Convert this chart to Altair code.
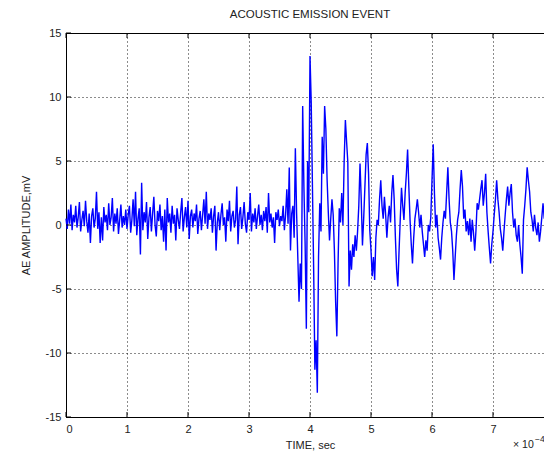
import altair as alt
import pandas as pd

STEP = 0.02

amp_0 = [0.5, -0.3, 1.2, 0.1, 1.6, -0.4, 0.8, 0.2, 1.5, -0.2,
         0.6, 1.8, -0.5, 0.4, 1.1, -0.1, 1.9, 0.3, -0.6, 0.9,
         -1.4, 0.7, 1.3, -0.2, 0.5, 2.6, -0.3, 1.0, -1.4, 0.6,
         -1.2, 1.4, 0.2, 0.8, -0.4, 1.7, 0.0, 0.6, 2.1, -0.5,
         0.9, 0.1, 1.3, -0.7, 0.4, 1.6, -0.2, 0.7, 0.0, 1.2]
amp_1 = [-0.3, 0.8, 1.5, -0.6, 0.4, 2.0, -0.1, 2.6, -0.8, 0.5,
         1.3, -2.3, 3.3, -0.4, 1.0, 0.2, 1.8, -1.1, 0.6, 1.4,
         -0.5, 0.9, 2.2, 0.0, -0.9, 1.1, 0.3, 1.6, -0.4, 0.7,
         -1.3, 1.2, -2.0, 2.1, 0.2, 0.9, -0.6, 1.5, 0.1, 0.8,
         -1.2, 1.3, 0.4, -0.3, 1.0, 2.1, -0.5, 0.6, 1.4, -0.2]
amp_2 = [1.9, -1.1, 0.7, 1.2, -0.2, 0.9, 0.3, 1.6, -0.7, 0.5,
         1.1, -0.4, 0.8, 2.0, 0.1, 2.6, -0.3, 0.9, 0.4, 1.3,
         -0.6, 0.7, 1.5, -2.0, 0.2, 1.0, -0.4, 0.8, 1.7, 0.0,
         0.6, -1.3, 1.2, 0.3, 1.9, -0.5, 0.7, 1.1, -0.2, 0.4,
         3.0, -1.5, 0.8, 1.4, -0.3, 0.6, 1.8, 0.1, -0.6, 1.0]
amp_3 = [0.4, 2.5, -0.5, 0.9, 0.2, 1.3, -0.3, 0.7, 1.6, 0.0,
         0.8, -0.4, 1.1, 0.3, 1.4, -0.6, 2.5, 0.2, 0.9, -0.2,
         0.6, -1.4, 1.0, 0.4, 1.2, -0.1, 0.7, 0.3, 1.5, -0.4,
         0.8, 2.8, 0.1, 4.5, -2.0, 0.9, 1.5, -1.0, 6.0, 1.0,
         -2.5, -6.0, -3.0, -5.0, 9.3, 3.0, -1.5, -8.1, 5.0, 1.0]
amp_4 = [13.2, 9.6, 3.0, -3.5, -11.3, -9.0, -13.1, -2.5, 1.7, -0.5,
         6.9, 4.0, 9.3, 7.5, 3.6, 1.0, -1.2, 0.5, 2.0, 0.8,
         -2.0, -6.0, -8.7, -3.0, 1.3, 0.2, 2.5, 0.0, 5.0, 8.2,
         6.5, 4.9, -4.8, -2.0, -3.5, -1.5, -2.5, -0.8, -2.0, -0.5,
         1.5, 4.8, 2.0, -1.6, 0.5, 3.0, 5.5, 6.4, 4.0, -0.4]
amp_5 = [-2.0, -4.0, -2.5, -4.3, -1.0, 0.4, 0.0, 2.0, 3.5, 1.5,
         0.5, 2.2, 0.8, -1.0, 0.6, 1.5, 0.2, 2.5, 3.9, 2.0,
         -1.0, -3.5, -4.8, -2.0, 0.5, 2.9, 1.5, 0.4, 2.5, 4.0,
         5.9, 3.0, 0.4, -1.5, -3.0, -1.0, 0.5, 1.2, 2.0, 1.0,
         -0.2, 0.8, -0.5, -1.5, -2.5, -1.2, -2.0, 0.0, -0.5, 0.6]
amp_6 = [3.5, 6.3, 2.5, -0.2, 0.8, -1.0, -1.8, -2.7, -1.0, 0.2,
         1.1, 0.5, 2.5, 4.5, 2.0, 0.2, -0.5, -2.0, -4.3, -2.5,
         -0.8, 0.4, 1.0, 2.8, 4.3, 3.0, 0.5, 1.2, -0.5, 0.3,
         -0.8, 0.5, -1.3, 0.4, -0.6, -2.0, -0.5, 1.7, 1.2, 2.0,
         2.8, 3.5, 1.5, 2.5, 4.0, 1.0, -0.5, -1.8, -3.0, -1.5]
amp_7 = [-0.5, 0.8, 2.0, 3.5, 2.0, 1.0, -0.3, -1.0, -2.0, -0.5,
         0.8, 2.0, 3.0, 1.5, 2.5, 3.2, 1.0, -0.2, 0.5, -0.8,
         -1.3, 0.0, -1.5, -2.5, -3.8, 0.4, 1.5, 2.8, 4.5, 3.5,
         2.6, 1.0, 0.4, -0.5, 0.8, -0.2, -0.8, 0.2, -1.3, -0.5,
         0.6, 1.7, 0.5, 2.4, 1.2, -0.2, 0.8, 0.0, 0.3]

amplitude = amp_0 + amp_1 + amp_2 + amp_3 + amp_4 + amp_5 + amp_6 + amp_7
time = [round(i * STEP, 2) for i in range(len(amplitude))]

x_ticks = [0, 1, 2, 3, 4, 5, 6, 7]
y_ticks = [-15, -10, -5, 0, 5, 10, 15]
exponent_label = ["\u00d7 10"]
exponent_power = ["\u22124"]

W, H = 488, 384

sig = pd.DataFrame({"t": time, "v": amplitude})
xt = pd.DataFrame({"t": x_ticks})
yt = pd.DataFrame({"v": y_ticks})
one = pd.DataFrame({"base": exponent_label, "pow": exponent_power})

xscale = alt.Scale(domain=[0, 8], nice=False, zero=False)
yscale = alt.Scale(domain=[-15, 15], nice=False, zero=False)

FONT = "Liberation Sans"

line = alt.Chart(sig).mark_line(color="#0000ff", strokeWidth=1.4).encode(
    x=alt.X("t:Q", scale=xscale,
            axis=alt.Axis(values=x_ticks, title="TIME, sec", grid=True,
                          tickSize=0, labelPadding=6, titlePadding=5,
                          format="d")),
    y=alt.Y("v:Q", scale=yscale,
            axis=alt.Axis(values=y_ticks, title="AE AMPLITUDE,mV", grid=True,
                          tickSize=0, labelPadding=5, titlePadding=14,
                          labelExpr="'' + datum.value")),
)

tick_bottom = alt.Chart(xt).mark_rule(color="black").encode(
    x=alt.X("t:Q", scale=xscale), y=alt.value(H), y2=alt.value(H - 5))
tick_top = alt.Chart(xt).mark_rule(color="black").encode(
    x=alt.X("t:Q", scale=xscale), y=alt.value(0), y2=alt.value(5))
tick_left = alt.Chart(yt).mark_rule(color="black").encode(
    y=alt.Y("v:Q", scale=yscale), x=alt.value(0), x2=alt.value(5))

exp_base = alt.Chart(one).mark_text(
    font=FONT, fontSize=10.5, align="left", baseline="middle",
    color="#222").encode(text="base:N", x=alt.value(447), y=alt.value(H + 28))
exp_pow = alt.Chart(one).mark_text(
    font=FONT, fontSize=8.5, align="left", baseline="middle",
    color="#222").encode(text="pow:N", x=alt.value(469), y=alt.value(H + 22))

chart = alt.layer(line, tick_bottom, tick_top, tick_left, exp_base, exp_pow).properties(
    width=W, height=H,
    title=alt.Title("ACOUSTIC EMISSION EVENT", font=FONT, fontSize=11.5,
                    fontWeight="normal", color="#222", offset=7),
    padding={"left": 58, "top": 25, "right": -10, "bottom": 34},
    autosize=alt.AutoSizeParams(type="none"),
).configure_axis(
    domainColor="black", domainWidth=1,
    gridColor="black", gridDash=[1, 3], gridOpacity=0.9, gridWidth=1,
    labelFont=FONT, labelFontSize=11, labelColor="#222",
    titleFont=FONT, titleFontSize=11, titleFontWeight="normal", titleColor="#222",
).configure_view(stroke="black", strokeWidth=1)

chart.save("out.html", embed_options={"renderer": "svg", "actions": False})
